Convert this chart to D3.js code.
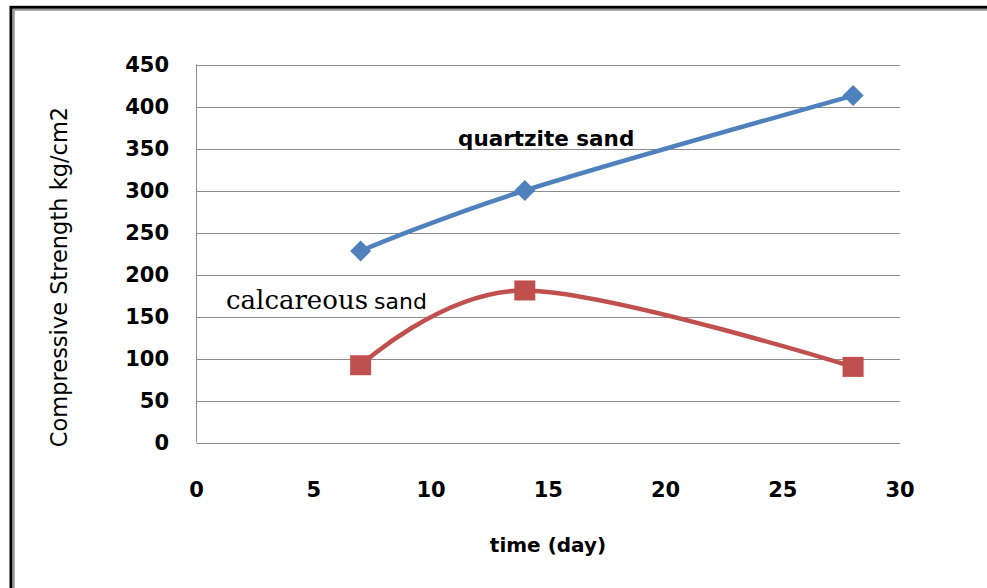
<!DOCTYPE html>
<html>
<head>
<meta charset="utf-8">
<script src="https://cdn.jsdelivr.net/npm/d3@7"></script>
<style>
  html, body { margin: 0; padding: 0; background: #fff; overflow: hidden; }
  text { font-family: "DejaVu Sans", sans-serif; fill: #000; }
</style>
</head>
<body>
<svg id="chart" width="987" height="588"></svg>
<script>
(function () {

  // data
  const days = [7, 14, 28];
  const quartzite = [228, 300, 413];
  const calcareous = [92, 181, 90];
  const xTicks = [0, 5, 10, 15, 20, 25, 30];
  const yTicks = [0, 50, 100, 150, 200, 250, 300, 350, 400, 450];

  const W = 987, H = 588;
  const plot = { left: 196.5, right: 900, top: 64.5, bottom: 442.5 };

  const svg = d3.select('#chart');

  svg.append('rect').attr('width', W).attr('height', H).attr('fill', '#fff');

  // outer frame (runs off the right and bottom edges)
  svg.append('rect')
    .attr('x', 11).attr('y', 7.3).attr('width', 1200).attr('height', 1200)
    .attr('fill', 'none').attr('stroke', '#000').attr('stroke-width', 3);
  svg.append('rect')
    .attr('x', 13.8).attr('y', 9.8).attr('width', 1200).attr('height', 1200)
    .attr('fill', 'none').attr('stroke', '#9a9a9a').attr('stroke-width', 2);

  const x = d3.scaleLinear().domain([0, 30]).range([plot.left, plot.right]);
  const y = d3.scaleLinear().domain([0, 450]).range([plot.bottom, plot.top]);

  // gridlines
  svg.append('g')
    .selectAll('line')
    .data(yTicks)
    .join('line')
    .attr('x1', plot.left).attr('x2', plot.right)
    .attr('y1', d => Math.round(y(d)) + 0.5).attr('y2', d => Math.round(y(d)) + 0.5)
    .attr('stroke', '#8c8c8c').attr('stroke-width', 1);

  // left axis line
  svg.append('line')
    .attr('x1', plot.left).attr('x2', plot.left)
    .attr('y1', plot.top).attr('y2', plot.bottom)
    .attr('stroke', '#8c8c8c').attr('stroke-width', 1);

  // tick labels
  svg.append('g')
    .selectAll('text')
    .data(yTicks)
    .join('text')
    .attr('x', 169)
    .attr('y', d => y(d))
    .attr('dy', '0.36em')
    .attr('text-anchor', 'end')
    .attr('font-size', 21)
    .attr('font-weight', 'bold')
    .text(d => d);

  svg.append('g')
    .selectAll('text')
    .data(xTicks)
    .join('text')
    .attr('x', d => x(d))
    .attr('y', 497)
    .attr('text-anchor', 'middle')
    .attr('font-size', 21)
    .attr('font-weight', 'bold')
    .text(d => d);

  // axis titles
  svg.append('text')
    .attr('transform', 'translate(67,277) rotate(-90)')
    .attr('text-anchor', 'middle')
    .attr('font-size', 22.5)
    .text('Compressive Strength kg/cm2');

  svg.append('text')
    .attr('x', 548).attr('y', 552)
    .attr('text-anchor', 'middle')
    .attr('font-size', 20)
    .attr('font-weight', 'bold')
    .text('time (day)');

  // smoothed lines like the spreadsheet's
  const line = d3.line()
    .x(d => x(d[0]))
    .y(d => y(d[1]))
    .curve(d3.curveCardinal.tension(0));

  const series = [
    { name: 'quartzite', values: quartzite, color: '#4f81bd' },
    { name: 'calcareous', values: calcareous, color: '#c0504d' }
  ];

  series.forEach(s => {
    const pts = days.map((d, i) => [d, s.values[i]]);
    svg.append('path')
      .datum(pts)
      .attr('d', line)
      .attr('fill', 'none')
      .attr('stroke', s.color)
      .attr('stroke-width', 4.5)
      .attr('stroke-linejoin', 'round');
  });

  // markers
  svg.append('g')
    .selectAll('path')
    .data(days.map((d, i) => [d, quartzite[i]]))
    .join('path')
    .attr('transform', d => `translate(${x(d[0])},${y(d[1])})`)
    .attr('d', 'M0,-10.5L10.5,0L0,10.5L-10.5,0Z')
    .attr('fill', '#4f81bd');

  svg.append('g')
    .selectAll('rect')
    .data(days.map((d, i) => [d, calcareous[i]]))
    .join('rect')
    .attr('x', d => x(d[0]) - 10.5)
    .attr('y', d => y(d[1]) - 10)
    .attr('width', 21).attr('height', 20)
    .attr('fill', '#c0504d');

  // series labels
  svg.append('text')
    .attr('x', 458).attr('y', 146)
    .attr('font-size', 21.5)
    .attr('font-weight', 'bold')
    .text('quartzite sand');

  const calc = svg.append('text')
    .attr('x', 226).attr('y', 309);
  calc.append('tspan')
    .style('font-family', '"DejaVu Serif", serif')
    .attr('font-size', 26)
    .text('calcareous');
  calc.append('tspan')
    .attr('dx', 6)
    .attr('font-size', 22)
    .text('sand');

})();
</script>
</body>
</html>
